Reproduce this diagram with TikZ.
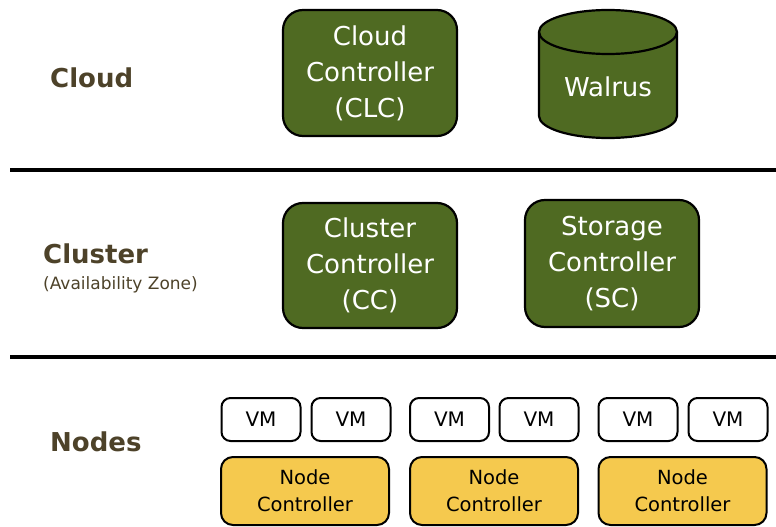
\documentclass[tikz,border=0pt]{standalone}
\usepackage{fontspec}
\setmainfont{DejaVu Sans}
\definecolor{olivebox}{HTML}{4F6A22}
\definecolor{ncyellow}{HTML}{F5C94E}
\definecolor{tierlabel}{HTML}{4D4229}
\begin{document}
\begin{tikzpicture}[x=1pt,y=-1pt,
  greenbox/.style={draw=black, line width=2.2pt, fill=olivebox, rounded corners=20pt,
    text=white, align=center, minimum width=174pt, minimum height=126pt,
    inner sep=0pt, font=\fontsize{26}{36}\selectfont},
  vmbox/.style={draw=black, line width=2pt, fill=white, rounded corners=9pt,
    minimum width=79pt, minimum height=43pt, inner sep=0pt,
    font=\fontsize{20}{24}\selectfont},
  ncbox/.style={draw=black, line width=2pt, fill=ncyellow, rounded corners=12pt,
    minimum width=168pt, minimum height=68pt, inner sep=0pt, align=center,
    font=\fontsize{19.5}{27}\selectfont},
  tier/.style={anchor=west, inner sep=0pt, text=tierlabel,
    font=\fontsize{26}{30}\selectfont\bfseries},
  sepline/.style={line width=3.6pt, black}]
\useasboundingbox (0,0) rectangle (776,527);

% tier separators
\coordinate (s1a) at (10,170);
\coordinate (s1b) at (776,170);
\coordinate (s2a) at (10,357);
\coordinate (s2b) at (776,357);
\draw[sepline] (s1a) -- (s1b);
\draw[sepline] (s2a) -- (s2b);

% tier labels
\node[tier] (lcloud) at (50,78) {Cloud};
\node[tier] (lcluster) at (43,254) {Cluster};
\node[anchor=west, inner sep=0pt, text=tierlabel, font=\fontsize{17}{19}\selectfont]
  (lzone) at (43,285) {(Availability Zone)};
\node[tier] (lnodes) at (50,442) {Nodes};

% cloud tier
\node[greenbox] (clc) at (370,73) {Cloud\\Controller\\(CLC)};
% Walrus storage drum (y axis points down, so arcs through 90 bend downward)
\draw[line width=2.2pt, fill=olivebox]
  (539,32) -- (539,116) arc[start angle=180, end angle=0, x radius=69, y radius=22]
  -- (677,32) arc[start angle=0, end angle=-180, x radius=69, y radius=22] -- cycle;
\draw[line width=2.2pt] (539,32) arc[start angle=180, end angle=0, x radius=69, y radius=22];
\node[text=white, font=\fontsize{26}{30}\selectfont] (walrus) at (608,87) {Walrus};

% cluster tier
\node[greenbox, minimum height=125pt] (cc) at (370,265.5) {Cluster\\Controller\\(CC)};
\node[greenbox, minimum height=127pt] (sc) at (612,263.5) {Storage\\Controller\\(SC)};

% node tier
\foreach \i/\x in {1/261, 2/351, 3/449.5, 4/539, 5/638, 6/728}
  \node[vmbox] (vm\i) at (\x,419.5) {VM};
\foreach \i/\x in {1/305, 2/494, 3/682.5}
  \node[ncbox] (nc\i) at (\x,491) {Node\\Controller};
\end{tikzpicture}
\end{document}
